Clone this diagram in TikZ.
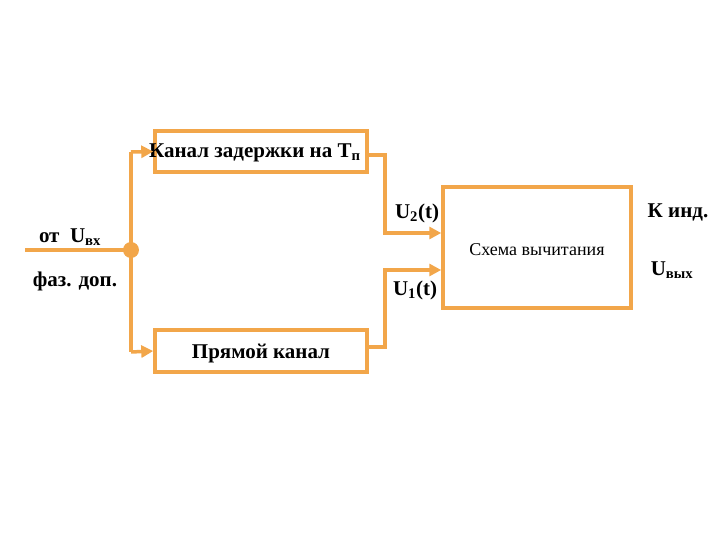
\documentclass[tikz,border=0pt]{standalone}
\usepackage{fontspec}
\setmainfont{Liberation Serif}
\usetikzlibrary{arrows.meta}
\definecolor{org}{HTML}{F2A64A}
\begin{document}
\begin{tikzpicture}[x=1pt,y=-1pt,
  blk/.style={draw=org,line width=3.5pt,inner sep=0pt},
  ln/.style={draw=org,line width=3.5pt},
  arr/.style={ln,-{Triangle[length=12pt,width=12pt]}},
  lbl/.style={font=\fontsize{21}{21}\selectfont\bfseries}]
\useasboundingbox (0,0) rectangle (720,540);
\node[blk,minimum width=212pt,minimum height=41pt] (top) at (261,151.5) {};
\node[blk,minimum width=212pt,minimum height=42pt] (bot) at (261,351) {};
\node[blk,minimum width=188pt,minimum height=121pt] (sub) at (537,247.5) {};
\node[lbl,anchor=west,inner sep=0pt] (toptxt) at (149,153) {Канал задержки на T\textsubscript{п}};
\node[lbl] (bottxt) at (261,354) {Прямой канал};
\node[font=\fontsize{18}{18}\selectfont] (subtxt) at (537,250) {Схема вычитания};
\coordinate (in) at (25,250);
\fill[org] (131,250) circle (8) coordinate (j);
\coordinate (jt) at (131,152);
\coordinate (jb) at (131,352);
\draw[ln] (in) -- (j);
\draw[ln] (jt) -- (jb);
\draw[arr] (jt) -- (top.west);
\draw[arr] (jb) -- (bot.west);
\draw[arr] (367,155) -| (385,233) -- (sub.west |- 0,233);
\draw[arr] (367,347) -| (385,270) -- (sub.west |- 0,270);
\node[lbl] (ux) at (70,237) {от\enspace U\textsubscript{вх}};
\node[lbl] (fz) at (75,281) {фаз. доп.};
\node[lbl] (u2) at (417,213) {U\textsubscript{2}(t)};
\node[lbl] (u1) at (415,290) {U\textsubscript{1}(t)};
\node[lbl] (kind) at (678,212) {К инд.};
\node[lbl] (uout) at (672,270) {U\textsubscript{вых}};
\end{tikzpicture}
\end{document}
